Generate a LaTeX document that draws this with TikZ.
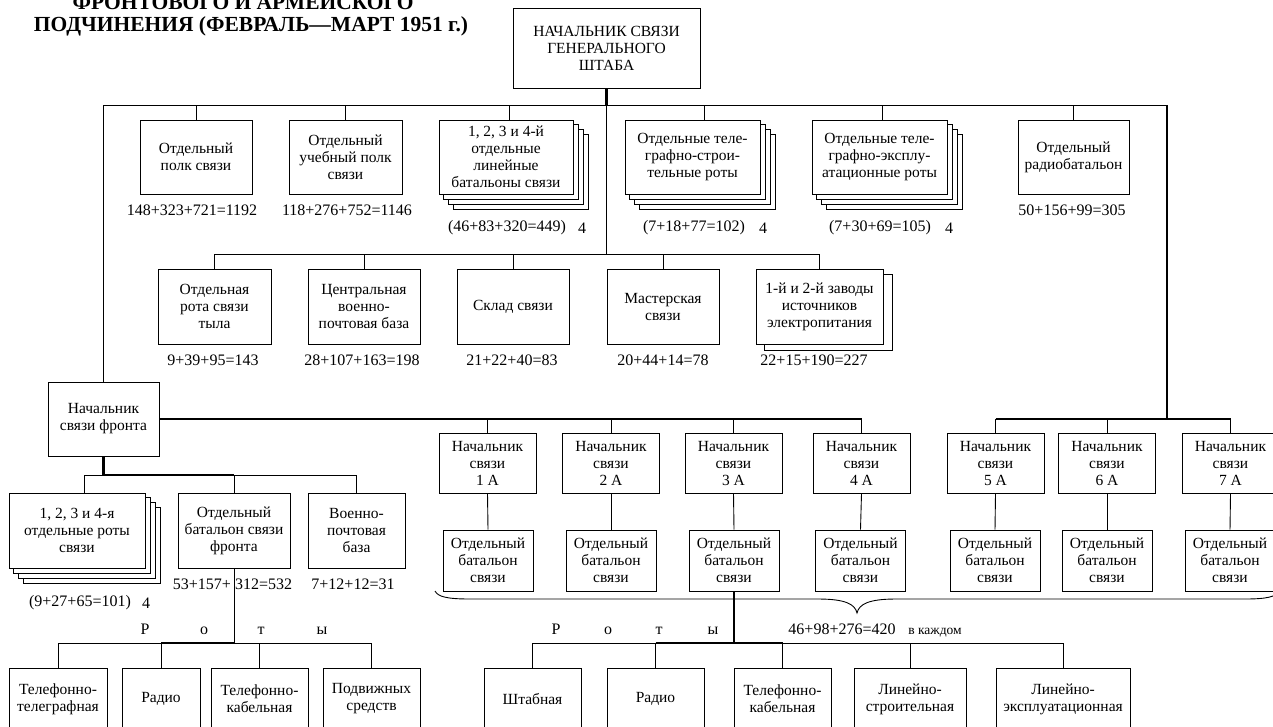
\documentclass[tikz,border=0pt]{standalone}
\usepackage{fontspec}
\setmainfont{Liberation Serif}
\usetikzlibrary{calc,backgrounds}
\newcommand\bxf{\fontsize{15.5}{17}\selectfont}
\newcommand\lbf{\fontsize{16}{18}\selectfont}
\newcommand\ttf{\fontsize{21.5}{24}\selectfont\bfseries}
% shadow copies behind a node: name, count, dx, dy
\newcommand\stk[4]{%
  \begin{scope}[on background layer]
    \foreach \k in {#2,...,1}
      \draw[line width=0.9pt, fill=white] ($(#1.south west)+(\k*#3,\k*#4)$) rectangle ($(#1.north east)+(\k*#3,\k*#4)$);
  \end{scope}}
\begin{document}
\begin{tikzpicture}[x=1pt,y=-1pt,
  box/.style={draw, line width=1pt, fill=white, align=center, inner sep=0pt, font=\bxf},
  lbl/.style={inner sep=0pt, font=\lbf},
  ln/.style={line width=0.9pt},
  lnm/.style={line width=1.4pt},
  lnb/.style={line width=2.2pt}]
\useasboundingbox (0,0) rectangle (1273,726);
\clip (0,0) rectangle (1273,726);

% title
\node[font=\ttf, anchor=base, inner sep=0pt] (t1) at (243,9) {ФРОНТОВОГО И АРМЕЙСКОГО};
\node[font=\ttf, anchor=base, inner sep=0pt] (t2) at (251,31) {ПОДЧИНЕНИЯ (ФЕВРАЛЬ—МАРТ 1951 г.)};

% bus coordinates
\coordinate (bus1) at (0,105);
\coordinate (bus2) at (0,254);
\coordinate (bus5) at (0,475);
\coordinate (bus6) at (0,643);
\coordinate (rvb) at (1167,419);

% top
\node[box, minimum width=187pt, minimum height=80pt] (top) at (606.5,48) {НАЧАЛЬНИК СВЯЗИ\\ГЕНЕРАЛЬНОГО\\ШТАБА};

% row 1
\node[box, minimum width=112pt, minimum height=74pt] (r1a) at (196,157) {Отдельный\\полк связи};
\node[box, minimum width=113pt, minimum height=74pt] (r1b) at (345.5,157) {Отдельный\\учебный полк\\связи};
\node[box, minimum width=134pt, minimum height=74pt] (r1c) at (506,157) {1, 2, 3 и 4-й\\отдельные\\линейные\\батальоны связи};
\node[box, minimum width=135pt, minimum height=74pt] (r1d) at (692.5,157) {Отдельные теле-\\графно-строи-\\тельные роты};
\node[box, minimum width=135pt, minimum height=74pt] (r1e) at (879.5,157) {Отдельные теле-\\графно-эксплу-\\атационные роты};
\node[box, minimum width=111pt, minimum height=74pt] (r1f) at (1073.5,157) {Отдельный\\радиобатальон};
\stk{r1c}{3}{5}{5}
\stk{r1d}{3}{5}{5}
\stk{r1e}{3}{5}{5}

\node[lbl] (l1a) at (192,210) {148+323+721=1192};
\node[lbl] (l1b) at (347,210) {118+276+752=1146};
\node[lbl] (l1c) at (507,228) {(46+83+320=449)};
\node[lbl] (l1c4) at (582,228) {4};
\node[lbl] (l1d) at (694,228) {(7+18+77=102)};
\node[lbl] (l1d4) at (763,228) {4};
\node[lbl] (l1e) at (880,228) {(7+30+69=105)};
\node[lbl] (l1e4) at (949,228) {4};
\node[lbl] (l1f) at (1072,210) {50+156+99=305};

% row 2
\node[box, minimum width=113pt, minimum height=75pt] (r2a) at (214.5,306.5) {Отдельная\\рота связи\\тыла};
\node[box, minimum width=112pt, minimum height=75pt] (r2b) at (364,306.5) {Центральная\\военно-\\почтовая база};
\node[box, minimum width=112pt, minimum height=75pt] (r2c) at (513,306.5) {Склад связи};
\node[box, minimum width=112pt, minimum height=75pt] (r2d) at (663,306.5) {Мастерская\\связи};
\node[box, minimum width=127pt, minimum height=75pt] (r2e) at (819.5,306.5) {1-й и 2-й заводы\\источников\\электропитания};
\stk{r2e}{1}{9}{6}

\node[lbl] (l2a) at (213,360) {9+39+95=143};
\node[lbl] (l2b) at (362,360) {28+107+163=198};
\node[lbl] (l2c) at (512,360) {21+22+40=83};
\node[lbl] (l2d) at (663,360) {20+44+14=78};
\node[lbl] (l2e) at (814,360) {22+15+190=227};

% front chief
\node[box, minimum width=111pt, minimum height=74pt] (nf) at (103.5,419) {Начальник\\связи фронта};

% army chiefs
\node[box, minimum width=97pt, minimum height=60pt] (n1) at (487.5,463) {Начальник\\связи\\1 А};
\node[box, minimum width=97pt, minimum height=60pt] (n2) at (611,463) {Начальник\\связи\\2 А};
\node[box, minimum width=97pt, minimum height=60pt] (n3) at (733.5,463) {Начальник\\связи\\3 А};
\node[box, minimum width=97pt, minimum height=60pt] (n4) at (861.5,463) {Начальник\\связи\\4 А};
\node[box, minimum width=97pt, minimum height=60pt] (n5) at (995.5,463) {Начальник\\связи\\5 А};
\node[box, minimum width=97pt, minimum height=60pt] (n6) at (1107,463) {Начальник\\связи\\6 А};
\node[box, minimum width=97pt, minimum height=60pt] (n7) at (1230.5,463) {Начальник\\связи\\7 А};

% army battalions
\node[box, minimum width=90pt, minimum height=61pt] (b1) at (488,560.5) {Отдельный\\батальон\\связи};
\node[box, minimum width=90pt, minimum height=61pt] (b2) at (611,560.5) {Отдельный\\батальон\\связи};
\node[box, minimum width=90pt, minimum height=61pt] (b3) at (734,560.5) {Отдельный\\батальон\\связи};
\node[box, minimum width=90pt, minimum height=61pt] (b4) at (860.5,560.5) {Отдельный\\батальон\\связи};
\node[box, minimum width=90pt, minimum height=61pt] (b5) at (995,560.5) {Отдельный\\батальон\\связи};
\node[box, minimum width=90pt, minimum height=61pt] (b6) at (1107,560.5) {Отдельный\\батальон\\связи};
\node[box, minimum width=90pt, minimum height=61pt] (b7) at (1230,560.5) {Отдельный\\батальон\\связи};

% front units
\node[box, minimum width=136pt, minimum height=75pt] (fs) at (77,530.5) {1, 2, 3 и 4-я\\отдельные роты\\связи};
\stk{fs}{3}{5}{5}
\node[box, minimum width=112pt, minimum height=75pt] (fb) at (234,530.5) {Отдельный\\батальон связи\\фронта};
\node[box, minimum width=97pt, minimum height=75pt] (fv) at (356.5,530.5) {Военно-\\почтовая\\база};

\node[lbl] (lfs) at (80,603) {(9+27+65=101)};
\node[lbl] (lfs4) at (146,603) {4};
\node[lbl] (lfb) at (232.5,584) {53+157+ 312=532};
\node[lbl] (lfv) at (353,584) {7+12+12=31};

% "Роты" letters
\node[lbl, anchor=base] (rl1) at (145,634) {Р};
\node[lbl, anchor=base] (rl2) at (204,634) {о};
\node[lbl, anchor=base] (rl3) at (261,634) {т};
\node[lbl, anchor=base] (rl4) at (322,634) {ы};
\node[lbl, anchor=base] (rr1) at (556,634) {Р};
\node[lbl, anchor=base] (rr2) at (608,634) {о};
\node[lbl, anchor=base] (rr3) at (659,634) {т};
\node[lbl, anchor=base] (rr4) at (713,634) {ы};
\node[lbl, anchor=base] (lsum) at (842,634) {46+98+276=420};
\node[inner sep=0pt, font=\fontsize{13.5}{16}\selectfont, anchor=base] (lkazh) at (935,634) {в каждом};

% bottom companies
\node[box, minimum width=98pt, minimum height=62pt] (p1) at (58,699) {Телефонно-\\телеграфная};
\node[box, minimum width=78pt, minimum height=62pt] (p2) at (161,699) {Радио};
\node[box, minimum width=97pt, minimum height=62pt] (p3) at (259.5,699) {Телефонно-\\кабельная};
\node[box, minimum width=97pt, minimum height=62pt] (p4) at (371.5,699) {Подвижных\\средств};
\node[box, minimum width=97pt, minimum height=62pt] (s1) at (532.5,699) {Штабная};
\node[box, minimum width=97pt, minimum height=62pt] (s2) at (655.5,699) {Радио};
\node[box, minimum width=97pt, minimum height=62pt] (s3) at (782.5,699) {Телефонно-\\кабельная};
\node[box, minimum width=112pt, minimum height=62pt] (s4) at (910,699) {Линейно-\\строительная};
\node[box, minimum width=134pt, minimum height=62pt] (s5) at (1063,699) {Линейно-\\эксплуатационная};

% ---------- connectors ----------
\coordinate (v1c) at ($(r1c.north)+(3.5,0)$);
\coordinate (v1d) at ($(r1d.north)+(12,0)$);
\coordinate (v1e) at ($(r1e.north)+(2.5,0)$);
\coordinate (vfs) at ($(fs.north)+(7,0)$);

\draw[lnb] (top.south) -- (top.south |- bus1);
\draw[ln] (nf.north) -- (nf.north |- bus1) -- (rvb |- bus1);
\draw[lnm] (rvb |- bus1) -- (rvb);
\foreach \n in {r1a,r1b,r1f} \draw[ln] (\n.north) -- (\n.north |- bus1);
\foreach \n in {v1c,v1d,v1e} \draw[ln] (\n) -- (\n |- bus1);

\draw[lnm] (top.south |- bus1) -- (top.south |- bus2);
\draw[ln] (r2a.north |- bus2) -- (r2e.north |- bus2);
\foreach \n in {r2a,r2b,r2c,r2d,r2e} \draw[ln] (\n.north) -- (\n.north |- bus2);

\draw[lnb] (nf.east) -- (n4.north |- nf.east);
\foreach \n in {n1,n2,n3,n4} \draw[ln] (\n.north) -- (\n.north |- nf.east);
\draw[lnb] (n5.north |- rvb) -- (n7.north |- rvb);
\foreach \n in {n5,n6,n7} \draw[ln] (\n.north) -- (\n.north |- rvb);
\draw[ln] (n1.south) -- (b1.north);
\draw[ln] (n2.south) -- (b2.north);
\draw[ln] (n3.south) -- (b3.north);
\draw[ln] (n4.south) -- (b4.north);
\draw[ln] (n5.south) -- (b5.north);
\draw[ln] (n6.south) -- (b6.north);
\draw[ln] (n7.south) -- (b7.north);

% brace under the battalions
\coordinate (brl) at (435,591);
\coordinate (tip) at (857,613);
\coordinate (brr) at (1279,591);
\draw[ln] (brl) .. controls (438,597) and (448,599) .. (470,599) -- (818,599)
  .. controls (845,599) and (855,604) .. (tip)
  .. controls (859,604) and (869,599) .. (896,599) -- (1245,599)
  .. controls (1266,599) and (1276,597) .. (brr);

\draw[lnb] (b3.south) -- (b3.south |- bus6);
\draw[ln] (s1.north |- bus6) -- (s5.north |- bus6);
\draw[lnb] (s2.north |- bus6) -- (s3.north |- bus6);
\foreach \n in {s1,s2,s3,s4,s5} \draw[ln] (\n.north) -- (\n.north |- bus6);

\draw[lnb] (nf.south) -- (nf.south |- bus5) -- (fb.north |- bus5);
\draw[ln] (vfs |- bus5) -- (nf.south |- bus5);
\draw[ln] (fb.north |- bus5) -- (fv.north |- bus5);
\draw[ln] (vfs) -- (vfs |- bus5);
\draw[ln] (fb.north) -- (fb.north |- bus5);
\draw[ln] (fv.north) -- (fv.north |- bus5);

\draw[ln] (fb.south) -- (fb.south |- bus6);
\draw[ln] (p1.north |- bus6) -- (p4.north |- bus6);
\draw[lnb] (p2.north |- bus6) -- (fb.south |- bus6);
\foreach \n in {p1,p2,p3,p4} \draw[ln] (\n.north) -- (\n.north |- bus6);
\end{tikzpicture}
\end{document}
